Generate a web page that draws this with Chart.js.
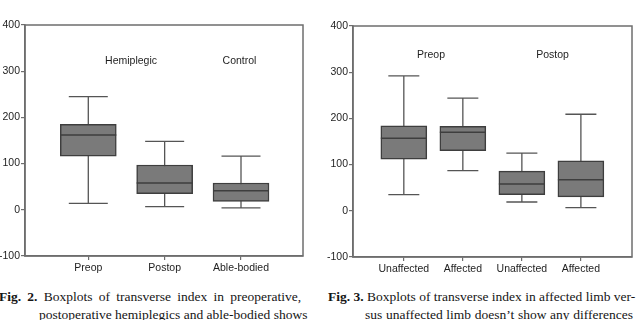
<!DOCTYPE html>
<html>
<head>
<meta charset="utf-8">
<script src="https://cdn.jsdelivr.net/npm/chart.js@4.4.0/dist/chart.umd.min.js"></script>
<style>
  html, body { margin:0; padding:0; background:#fff; width:637px; height:320px; overflow:hidden; position:relative; }
  .wrap { position:absolute; top:0; }
  .cap { position:absolute; font-family:"Liberation Serif","Times New Roman",serif; font-size:13.5px; line-height:18px; color:#151515; text-align:justify; text-align-last:justify; white-space:nowrap; }
  .cap b { font-weight:bold; }
</style>
</head>
<body>
<div class="wrap" style="left:0;width:318px;height:285px;"><canvas id="c1" width="318" height="285"></canvas></div>
<div class="wrap" style="left:320px;width:317px;height:285px;"><canvas id="c2" width="317" height="285"></canvas></div>

<div class="cap" style="left:-1px;top:288px;width:302px;"><b>Fig. 2.</b> Boxplots of transverse index in preoperative,</div>
<div class="cap" style="left:39px;top:306px;width:263px;">postoperative hemiplegics and able-bodied shows</div>
<div class="cap" style="left:328px;top:288px;width:305px;"><b>Fig. 3.</b> Boxplots of transverse index in affected limb ver-</div>
<div class="cap" style="left:365px;top:306px;width:268px;">sus unaffected limb doesn’t show any differences</div>

<script>
// ---- data: left chart (Fig. 2) ----
const leftCategories = ['Preop', 'Postop', 'Able-bodied'];
const leftMin    = [14, 7, 4];
const leftQ1     = [116, 35, 18];
const leftMedian = [162, 58, 41];
const leftQ3     = [185, 97, 58];
const leftMax    = [245, 148, 116];
const leftGroups = ['Hemiplegic', 'Control'];
const leftGroupX = [0.56, 1.98];
const leftGroupY = [322, 322];

// ---- data: right chart (Fig. 3) ----
const rightCategories = ['Unaffected', 'Affected', 'Unaffected', 'Affected'];
const rightMin    = [35, 87, 19, 7];
const rightQ1     = [112, 130, 35, 30];
const rightMedian = [157, 170, 58, 67];
const rightQ3     = [184, 183, 86, 108];
const rightMax    = [292, 244, 125, 209];
const rightGroups = ['Preop', 'Postop'];
const rightGroupX = [0.46, 2.52];
const rightGroupY = [336, 336];

const yTicks = [-100, 0, 100, 200, 300, 400];

const FONT = '"Liberation Sans", Arial, sans-serif';
const AXIS_COLOR = '#6e6e6e';
const BOX_FILL = '#7a7a7a';
const BOX_LINE = '#3e3e3e';
const WHISK = '#555555';

function boxPlugin(s) {
  return {
    id: 'boxextras',
    beforeDatasetsDraw(chart) {
      const ctx = chart.ctx, xs = chart.scales.x, ys = chart.scales.y;
      ctx.save();
      ctx.strokeStyle = WHISK;
      ctx.lineWidth = 1.3;
      s.cats.forEach((c, i) => {
        const x = xs.getPixelForValue(i);
        const yMin = ys.getPixelForValue(s.min[i]);
        const yMax = ys.getPixelForValue(s.max[i]);
        ctx.beginPath();
        ctx.moveTo(x, yMax); ctx.lineTo(x, yMin);
        ctx.moveTo(x - s.cap / 2, yMax); ctx.lineTo(x + s.cap / 2, yMax);
        ctx.moveTo(x - s.cap / 2, yMin); ctx.lineTo(x + s.cap / 2, yMin);
        ctx.stroke();
      });
      ctx.restore();
    },
    afterDatasetsDraw(chart) {
      const ctx = chart.ctx, xs = chart.scales.x, ys = chart.scales.y;
      ctx.save();
      ctx.strokeStyle = BOX_LINE;
      ctx.lineWidth = 1.5;
      s.cats.forEach((c, i) => {
        const x = xs.getPixelForValue(i);
        const y = ys.getPixelForValue(s.med[i]);
        ctx.beginPath();
        ctx.moveTo(x - s.box / 2, y); ctx.lineTo(x + s.box / 2, y);
        ctx.stroke();
      });
      ctx.fillStyle = '#1e1e1e';
      ctx.font = '10.5px ' + FONT;
      ctx.textAlign = 'center';
      ctx.textBaseline = 'middle';
      s.groups.forEach((g, i) => {
        ctx.fillText(g, xs.getPixelForValue(s.gx[i]), ys.getPixelForValue(s.gy[i]));
      });
      const a = chart.chartArea;
      ctx.strokeStyle = AXIS_COLOR;
      ctx.lineWidth = 1.5;
      ctx.strokeRect(a.left, a.top, a.right - a.left, a.bottom - a.top);
      ctx.restore();
    }
  };
}

function makeChart(id, s) {
  return new Chart(document.getElementById(id), {
    type: 'bar',
    data: {
      datasets: [{
        data: s.cats.map((c, i) => ({ x: i, y: [s.q1[i], s.q3[i]] })),
        backgroundColor: BOX_FILL,
        borderColor: BOX_LINE,
        borderWidth: 1.5,
        borderSkipped: false,
        barThickness: s.box
      }]
    },
    options: {
      responsive: false,
      devicePixelRatio: 1,
      animation: false,
      events: [],
      layout: { padding: { top: s.padTop, right: s.padRight, left: 0, bottom: 0 } },
      plugins: { legend: { display: false }, tooltip: { enabled: false }, title: { display: false } },
      scales: {
        x: {
          type: 'linear',
          offset: false,
          min: s.xmin, max: s.xmax,
          afterBuildTicks: (sc) => { sc.ticks = s.cats.map((c, i) => ({ value: i })); },
          afterFit: (sc) => { sc.height = s.xh; },
          ticks: {
            autoSkip: false, maxRotation: 0, padding: 2,
            color: '#1e1e1e', font: { family: FONT, size: 10.5 },
            callback: (v) => s.cats[v]
          },
          grid: { display: true, offset: false, drawOnChartArea: false, drawTicks: true, tickLength: 4, color: AXIS_COLOR, lineWidth: 1.2 },
          border: { display: true, color: AXIS_COLOR, width: 1.5 }
        },
        y: {
          min: -100, max: 400,
          afterBuildTicks: (sc) => { sc.ticks = yTicks.map(v => ({ value: v })); },
          afterFit: (sc) => { sc.width = s.yw; },
          ticks: {
            padding: 1, color: '#1e1e1e', font: { family: FONT, size: 10.5 },
            callback: (v) => String(v)
          },
          grid: { display: true, drawOnChartArea: false, drawTicks: true, tickLength: 4, color: AXIS_COLOR, lineWidth: 1.2 },
          border: { display: true, color: AXIS_COLOR, width: 1.5 }
        }
      }
    },
    plugins: [boxPlugin(s)]
  });
}

makeChart('c1', {
  cats: leftCategories, min: leftMin, q1: leftQ1, med: leftMedian, q3: leftQ3, max: leftMax,
  groups: leftGroups, gx: leftGroupX, gy: leftGroupY,
  xmin: -0.829, xmax: 2.812, box: 56, cap: 39,
  yw: 25, xh: 29, padTop: 25, padRight: 15
});

makeChart('c2', {
  cats: rightCategories, min: rightMin, q1: rightQ1, med: rightMedian, q3: rightQ3, max: rightMax,
  groups: rightGroups, gx: rightGroupX, gy: rightGroupY,
  xmin: -0.861, xmax: 3.866, box: 46, cap: 31,
  yw: 33, xh: 28, padTop: 26, padRight: 5
});
</script>
</body>
</html>
